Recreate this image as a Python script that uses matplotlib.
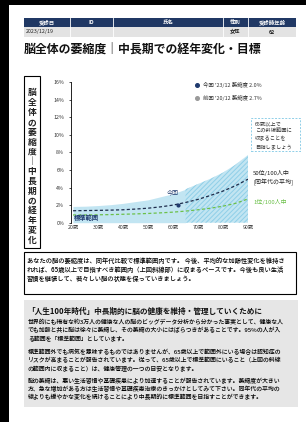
import matplotlib
matplotlib.use('Agg')
import numpy as np
import matplotlib.pyplot as plt
from matplotlib.patches import Rectangle

plt.rcParams['font.family'] = ['Noto Sans CJK JP', 'DejaVu Sans']
plt.rcParams['hatch.linewidth'] = 0.7

# ---- data ----
ages = np.array([20, 25, 30, 35, 40, 45, 50, 55, 60, 65, 70, 75, 80, 85, 90])
median = [1.36, 1.38, 1.40, 1.43, 1.47, 1.55, 1.65, 1.80, 2.00, 2.30, 2.65, 3.10, 3.60, 4.20, 4.95]
top1 = [0.88, 0.88, 0.90, 0.92, 0.96, 1.00, 1.05, 1.12, 1.20, 1.32, 1.47, 1.65, 1.88, 2.20, 2.70]
upper = [1.85, 1.88, 1.95, 2.05, 2.20, 2.40, 2.60, 2.95, 3.30, 3.80, 4.40, 5.00, 5.70, 6.60, 7.70]
now_age, now_val = 62, 2.0
xticks = [20, 30, 40, 50, 60, 70, 80, 90]
yticks = [0, 2, 4, 6, 8, 10, 12, 14, 16]

table_head = ['受診日', 'ID', '氏名', '性別', '受診時年齢']
table_row = ['2023/12/19', '', '', '女性', '62']
legend_txt = ["今回 '23/12 萎縮度 2.0%", "前回 '20/12 萎縮度 2.7%"]

title = '脳全体の萎縮度｜中長期での経年変化・目標'
side_title = '脳全体の萎縮度｜中長期の経年変化'
goal_lines = ['65歳以上で', 'この斜線範囲に', '収まることを', '目指しましょう']
comment = ['あなたの脳の萎縮度は、同年代比較で標準範囲内です。 今後、平均的な加齢性変化を維持さ',
           'れれば、65歳以上で目指すべき範囲内（上図斜線部）に収まるペースです。今後も良い生活',
           '習慣を継続して、若々しい脳の状態を保っていきましょう。']
info_head = '「人生100年時代」中長期的に脳の健康を維持・管理していくために'
info = [['世界的にも稀有な約3万人の健康な人の脳のビッグデータ分析から分かった事実として、健康な人',
         'でも加齢と共に脳は徐々に萎縮し、その萎縮の大小にはばらつきがあることです。95%の人が入',
         'る範囲を「標準範囲」としています。'],
        ['標準範囲外でも病気を意味するものではありませんが、65歳以上で範囲外にいる場合は認知症の',
         'リスクが高まることが報告されています。従って、65歳以上で標準範囲にいること（上図の斜線',
         'の範囲内に収まること）は、健康管理の一つの目安となります。'],
        ['脳の萎縮は、悪い生活習慣や基礎疾患により加速することが報告されています。萎縮度が大きい',
         '方、急な増加がある方は生活習慣や基礎疾患治療のきっかけとしてみて下さい。同年代の平均の',
         '線よりも緩やかな変化を続けることにより中長期的に標準範囲を目指すことができます。']]

navy = '#1f3a6e'
green = '#6cc04a'
light = '#c2e5f2'

W, H = 306, 422
fig = plt.figure(figsize=(W / 100, H / 100), dpi=100, facecolor='black')


def fx(x):
    return x / W


def fy(y):
    return 1 - y / H


def box(x0, y0, x1, y1, **kw):
    kw.setdefault('zorder', -1)
    fig.add_artist(Rectangle((fx(x0), fy(y1)), (x1 - x0) / W, (y1 - y0) / H,
                             transform=fig.transFigure, **kw))


def txt(x, y, s, **kw):
    kw.setdefault('va', 'center')
    fig.text(fx(x), fy(y), s, **kw)


# page
box(9, 5, 306, 422, facecolor='white', edgecolor='none', zorder=-5)

# header table
cols = [24, 70, 113, 223, 248, 296]
box(24, 18, 296, 27, facecolor='#203864', edgecolor='none')
box(24, 27, 296, 37, facecolor='#e3e3e3', edgecolor='none')
for i in range(5):
    cx = (cols[i] + cols[i + 1]) / 2
    txt(cx, 22.5, table_head[i], fontsize=3.9, color='white', ha='center', weight='bold')
    if i == 0:
        txt(26, 32, table_row[i], fontsize=3.8, color='#222222', ha='left')
    else:
        txt(cx, 32, table_row[i], fontsize=3.8, color='#222222', ha='center', weight='bold')
for c in cols[1:-1]:
    fig.add_artist(plt.Line2D([fx(c), fx(c)], [fy(18), fy(37)], transform=fig.transFigure,
                              color='white', lw=0.6))

txt(24, 50, title, fontsize=8.6, weight='bold', ha='left', color='#111111')

# vertical side title
box(24, 76, 40, 248, facecolor='none', edgecolor='black', lw=0.8)
for i, ch in enumerate(side_title):
    txt(32, 93 + i * 9.8, ch, fontsize=6.3, ha='center', weight='bold', color='#222222')

# chart
ax = fig.add_axes([fx(70.5), fy(222.7), (248 - 70.5) / W, (222.7 - 82) / H])
ax.set_facecolor('none')
m = ages <= 65
ax.fill_between(ages[m], 0, np.array(upper)[m], color=light, lw=0)
m2 = ages >= 65
ax.fill_between(ages[m2], 0, np.array(upper)[m2], facecolor=light, edgecolor='#8fcfe8',
                hatch='///////', lw=0)
ax.plot(ages, median, color='#1d2b4a', lw=0.9, dashes=(2.5, 1.8))
ax.plot(ages, top1, color=green, lw=0.9, dashes=(2.5, 1.8))
ax.plot(now_age, now_val, 'o', color=navy, ms=2)
ax.annotate('今回', (now_age, now_val), xytext=(now_age - 2, now_val + 1.4), fontsize=4.3,
            color=navy, ha='center', va='center')
ax.text(20.5, 0.55, '標準範囲', fontsize=4.5, color=navy, weight='bold', va='center')

ax.set_xlim(19, 90)
ax.set_ylim(0, 16)
ax.set_xticks(xticks)
ax.set_xticklabels([f'{a}歳' for a in xticks], fontsize=3.8, color='#333333')
ax.set_yticks(yticks)
ax.set_yticklabels([f'{v}%' for v in yticks], fontsize=3.8, color='#333333')
ax.tick_params(axis='x', length=0, pad=2)
ax.tick_params(axis='y', length=1.5, width=0.5, pad=3)
for s in ['top', 'right', 'bottom']:
    ax.spines[s].set_visible(False)
ax.spines['left'].set_linewidth(0.6)

# legend
for i, (c, t) in enumerate(zip([navy, '#9a9a9a'], legend_txt)):
    fig.add_artist(plt.Line2D([fx(197)], [fy(85 + i * 13)], marker='o', ms=2.6, color=c,
                              transform=fig.transFigure))
    txt(203, 85 + i * 13, t, fontsize=3.9, color='#333333', ha='left')

# goal box
box(251, 118, 300, 151, facecolor='none', edgecolor='#8fcfe8', lw=0.7, linestyle=(0, (2, 1.5)))
for i, t in enumerate(goal_lines):
    txt(255, 124 + i * 7.5, t, fontsize=3.8, color='#333333', ha='left')

txt(253, 173, '50位/100人中', fontsize=4.3, color='#222222', ha='left')
txt(253, 182, '[同年代の平均]', fontsize=4.3, color='#222222', ha='left')
txt(253, 202, '1位/100人中', fontsize=4.3, color=green, ha='left')

# comment box
box(24, 252, 296, 294, facecolor='none', edgecolor='black', lw=0.8)
for i, t in enumerate(comment):
    txt(27, 261 + i * 9, t, fontsize=4.5, color='black', ha='left', weight='medium')

# info box
box(24, 300, 298, 407, facecolor='#e6e6e6', edgecolor='none')
txt(27, 311, info_head, fontsize=5.5, weight='bold', color='#111111', ha='left')
ystart = [322, 352, 381]
for p, y0 in zip(info, ystart):
    for j, t in enumerate(p):
        txt(28, y0 + j * 8, t, fontsize=4.25, color='black', ha='left', weight='medium')

fig.savefig('out.png', dpi=100, facecolor='black')
